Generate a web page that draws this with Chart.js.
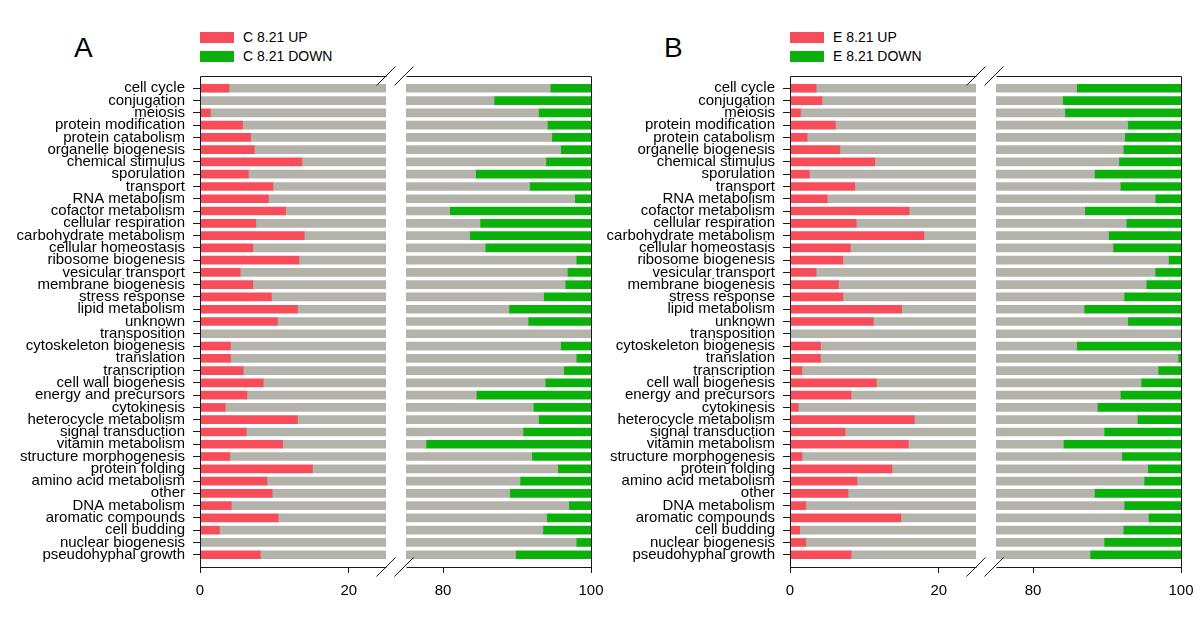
<!DOCTYPE html>
<html>
<head>
<meta charset="utf-8">
<script src="https://cdn.jsdelivr.net/npm/chart.js@4.4.0/dist/chart.umd.min.js"></script>
<style>
  html, body { margin: 0; padding: 0; background: #fff; }
  body { width: 1200px; height: 624px; position: relative; overflow: hidden;
         font-family: "Liberation Sans", Arial, sans-serif; color: #000; }
  canvas { position: absolute; top: 0; }
  .letter { position: absolute; font-size: 28px; line-height: 28px; }
  .key { position: absolute; width: 34px; height: 11px; }
  .key-text { position: absolute; font-size: 14px; line-height: 14px; white-space: nowrap; }
</style>
</head>
<body>

<div class="letter" style="left:74px; top:34px">A</div>
<div class="key" id="keyAUp" style="left:200px; top:32px"></div>
<div class="key-text" id="txtAUp" style="left:243px; top:30px"></div>
<div class="key" id="keyADown" style="left:200px; top:51px"></div>
<div class="key-text" id="txtADown" style="left:243px; top:49px"></div>

<div class="letter" style="left:664px; top:34px">B</div>
<div class="key" id="keyBUp" style="left:790px; top:32px"></div>
<div class="key-text" id="txtBUp" style="left:833px; top:30px"></div>
<div class="key" id="keyBDown" style="left:790px; top:51px"></div>
<div class="key-text" id="txtBDown" style="left:833px; top:49px"></div>

<canvas id="aLeft" width="400" height="624" style="left:0px"></canvas>
<canvas id="aRight" width="220" height="624" style="left:390px"></canvas>
<canvas id="bLeft" width="400" height="624" style="left:590px"></canvas>
<canvas id="bRight" width="220" height="624" style="left:980px"></canvas>

<script>
const categories = [
  "cell cycle", "conjugation", "meiosis", "protein modification", "protein catabolism",
  "organelle biogenesis", "chemical stimulus", "sporulation", "transport", "RNA metabolism",
  "cofactor metabolism", "cellular respiration", "carbohydrate metabolism", "cellular homeostasis",
  "ribosome biogenesis", "vesicular transport", "membrane biogenesis", "stress response",
  "lipid metabolism", "unknown", "transposition", "cytoskeleton biogenesis", "translation",
  "transcription", "cell wall biogenesis", "energy and precursors", "cytokinesis",
  "heterocycle metabolism", "signal transduction", "vitamin metabolism", "structure morphogenesis",
  "protein folding", "amino acid metabolism", "other", "DNA metabolism", "aromatic compounds",
  "cell budding", "nuclear biogenesis", "pseudohyphal growth"
];

// percent of genes up / down, panel A (C 8.21)
const cUp = [3.9, 0, 1.4, 5.7, 6.8, 7.3, 13.7, 6.5, 9.8, 9.2, 11.5, 7.5, 14.0, 7.1, 13.3, 5.4, 7.1, 9.6, 13.1, 10.4,
             0, 4.1, 4.1, 5.8, 8.5, 6.3, 3.4, 13.1, 6.2, 11.1, 4.0, 15.1, 9.0, 9.7, 4.2, 10.5, 2.6, 0, 8.1];
const cDown = [5.5, 13.1, 7.1, 5.9, 5.3, 4.1, 6.1, 15.6, 8.3, 2.2, 19.1, 15.0, 16.4, 14.3, 2.0, 3.2, 3.5, 6.4, 11.1, 8.5,
               0, 4.1, 2.0, 3.7, 6.2, 15.5, 7.8, 7.1, 9.2, 22.3, 8.0, 4.5, 9.6, 11.0, 3.0, 6.0, 6.5, 2.0, 10.2];

// panel B (E 8.21)
const eUp = [3.5, 4.3, 1.4, 6.1, 2.3, 6.7, 11.4, 2.6, 8.7, 5.0, 16.0, 8.9, 18.0, 8.1, 7.1, 3.5, 6.5, 7.1, 15.0, 11.2,
             0, 4.1, 4.1, 1.6, 11.6, 8.2, 1.1, 16.7, 7.4, 15.9, 1.6, 13.7, 9.0, 7.8, 2.1, 14.9, 1.3, 2.1, 8.2];
const eDown = [14.1, 16.0, 15.7, 7.2, 7.6, 7.8, 8.4, 11.7, 8.2, 3.5, 13.0, 7.4, 9.8, 9.2, 1.7, 3.5, 4.7, 7.7, 13.1, 7.2,
               0, 14.1, 0.4, 3.1, 5.4, 8.2, 11.3, 5.9, 10.4, 15.9, 8.0, 4.5, 5.0, 11.7, 7.7, 4.4, 7.8, 10.4, 12.3];

const seriesA = ["C 8.21 UP", "C 8.21 DOWN"];
const seriesB = ["E 8.21 UP", "E 8.21 DOWN"];

const leftTicks = [0, 20];
const rightTicks = [80, 100];

const RED = "#f74c5a";
const GREEN = "#0bb00b";
const GRAY = "#b4b3ab";
const FONT = "'Liberation Sans', Arial, sans-serif";

// legends
document.getElementById("keyAUp").style.background = RED;
document.getElementById("keyADown").style.background = GREEN;
document.getElementById("keyBUp").style.background = RED;
document.getElementById("keyBDown").style.background = GREEN;
document.getElementById("txtAUp").textContent = seriesA[0];
document.getElementById("txtADown").textContent = seriesA[1];
document.getElementById("txtBUp").textContent = seriesB[0];
document.getElementById("txtBDown").textContent = seriesB[1];

// box lines and the "//" axis break marks
const framePlugin = {
  id: "frame",
  afterDraw(chart, args, opts) {
    const { ctx, chartArea: a } = chart;
    const l = Math.round(a.left) + 0.5, r = Math.round(a.right) + 0.5;
    const t = Math.round(a.top) + 0.5, b = Math.round(a.bottom) + 0.5;
    ctx.save();
    ctx.strokeStyle = "#1a1a1a";
    ctx.lineWidth = 1;
    ctx.beginPath();
    ctx.moveTo(l, t); ctx.lineTo(r, t);
    ctx.moveTo(l, b); ctx.lineTo(r, b);
    if (opts.side === "left") { ctx.moveTo(l, t); ctx.lineTo(l, b); }
    else { ctx.moveTo(r, t); ctx.lineTo(r, b); }
    const bx = opts.side === "left" ? a.right : a.left - 2;
    [a.top, a.bottom].forEach(y => {
      ctx.moveTo(bx - 9.5, y + 9.5);
      ctx.lineTo(bx + 9.5, y - 9.5);
    });
    ctx.stroke();
    ctx.restore();
  }
};

function pad(arr) { return [null, ...arr, null]; }

function makeChart(id, up, down, side) {
  const labels = ["", ...categories, ""];
  const gray = up.map((u, i) => [u, 100 - down[i]]);
  const green = down.map(d => [100 - d, 100]);
  const datasets = [];
  if (side === "left") {
    datasets.push({ data: pad(up), backgroundColor: RED });
  }
  datasets.push({ data: pad(gray), backgroundColor: GRAY });
  if (side === "right") {
    datasets.push({ data: pad(green), backgroundColor: GREEN });
  }
  datasets.forEach(d => { d.barThickness = 8; d.grouped = false; d.clip = 0; d.borderWidth = 0; });

  const last = labels.length - 1;
  return new Chart(document.getElementById(id), {
    type: "bar",
    data: { labels, datasets },
    options: {
      indexAxis: "y",
      responsive: false,
      animation: false,
      events: [],
      layout: side === "left"
        ? { padding: { left: 0, right: 14, top: 76, bottom: 17 } }
        : { padding: { left: 16, right: 19, top: 76, bottom: 17 } },
      plugins: {
        legend: { display: false },
        tooltip: { enabled: false },
        frame: { side }
      },
      scales: {
        x: {
          type: "linear",
          min: side === "left" ? 0 : 75,
          max: side === "left" ? 25 : 100,
          afterBuildTicks: s => { s.ticks = (side === "left" ? leftTicks : rightTicks).map(v => ({ value: v })); },
          afterFit: s => { s.height = 40; s.paddingLeft = 0; s.paddingRight = 0; },
          border: { display: false },
          grid: { drawOnChartArea: false, drawTicks: true, tickLength: 6, tickColor: "#1a1a1a", color: "#1a1a1a" },
          ticks: { color: "#000", padding: 9, font: { family: FONT, size: 15 }, maxRotation: 0 }
        },
        y: {
          type: "category",
          display: side === "left",
          offset: false,
          afterFit: s => { s.width = side === "left" ? 200 : 0; },
          border: { display: false },
          grid: {
            offset: false,
            drawOnChartArea: false,
            drawTicks: true,
            tickLength: 7,
            tickColor: c => (c.index === 0 || c.index === last) ? "rgba(0,0,0,0)" : "#1a1a1a"
          },
          ticks: { autoSkip: false, color: "#000", padding: 8, font: { family: FONT, size: 15 } }
        }
      }
    },
    plugins: [framePlugin]
  });
}

makeChart("aLeft", cUp, cDown, "left");
makeChart("aRight", cUp, cDown, "right");
makeChart("bLeft", eUp, eDown, "left");
makeChart("bRight", eUp, eDown, "right");
</script>
</body>
</html>
